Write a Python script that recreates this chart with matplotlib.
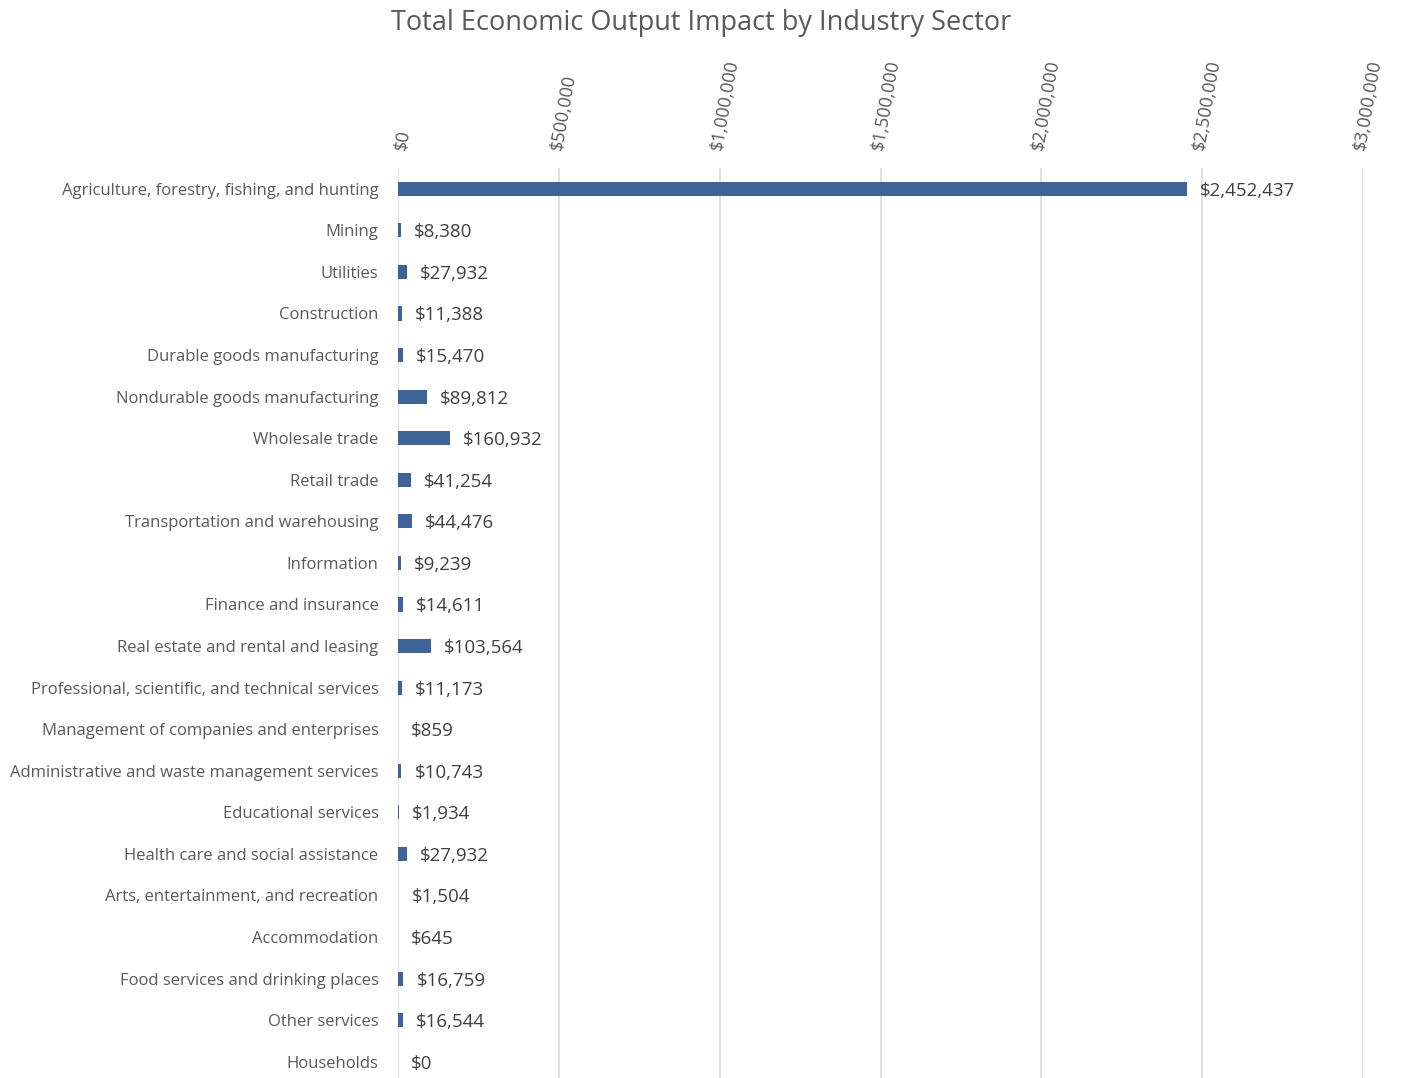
import matplotlib
matplotlib.use("Agg")
import matplotlib.pyplot as plt
from matplotlib.ticker import FuncFormatter, MultipleLocator
from matplotlib.transforms import offset_copy, ScaledTranslation

plt.rcParams['font.family'] = ['Open Sans', 'DejaVu Sans']

categories = [
    "Agriculture, forestry, fishing, and hunting",
    "Mining",
    "Utilities",
    "Construction",
    "Durable goods manufacturing",
    "Nondurable goods manufacturing",
    "Wholesale trade",
    "Retail trade",
    "Transportation and warehousing",
    "Information",
    "Finance and insurance",
    "Real estate and rental and leasing",
    "Professional, scientific, and technical services",
    "Management of companies and enterprises",
    "Administrative and waste management services",
    "Educational services",
    "Health care and social assistance",
    "Arts, entertainment, and recreation",
    "Accommodation",
    "Food services and drinking places",
    "Other services",
    "Households",
]
values = [2452437, 8380, 27932, 11388, 15470, 89812, 160932, 41254, 44476,
          9239, 14611, 103564, 11173, 859, 10743, 1934, 27932, 1504, 645,
          16759, 16544, 0]
title = "Total Economic Output Impact by Industry Sector"

fig = plt.figure(figsize=(14.03, 10.78), dpi=100)
ax = fig.add_axes([398/1403, -4.5/1078, (1363-398)/1403, (1082.5-168)/1078])

y = list(range(len(categories)))
ax.barh(y, values, height=0.34, color="#3E6497", zorder=3)
ax.set_ylim(len(categories) - 0.5, -0.5)
ax.set_xlim(0, 3000000)
ax.xaxis.set_major_locator(MultipleLocator(500000))
ax.xaxis.set_major_formatter(FuncFormatter(lambda v, p: "${:,.0f}".format(v)))
ax.xaxis.tick_top()
ax.tick_params(axis='x', length=0, pad=12, labelsize=13, labelcolor="#595959",
               labelrotation=80)
shift = ScaledTranslation(5/100, 0, fig.dpi_scale_trans)
for lbl in ax.get_xticklabels():
    lbl.set_ha('center')
    lbl.set_va('bottom')
    lbl.set_transform(lbl.get_transform() + shift)
ax.set_yticks(y)
ax.set_yticklabels(categories)
ax.tick_params(axis='y', length=0, pad=14, labelsize=12, labelcolor="#595959")
for s in ax.spines.values():
    s.set_visible(False)
ax.grid(axis='x', color="#D9D9D9", linewidth=1.2, zorder=0)
ax.grid(axis='y', visible=False)

trans = offset_copy(ax.transData, fig=fig, x=13, y=-2, units='dots')
for yi, v in zip(y, values):
    ax.text(v, yi, "${:,.0f}".format(v), transform=trans, va='center', ha='left',
            fontsize=13.5, color="#404040")

fig.text(0.5, 1 - 23/1078, title, ha='center', va='center', fontsize=19.5,
         color="#595959")

fig.savefig("out.png", dpi=100)
